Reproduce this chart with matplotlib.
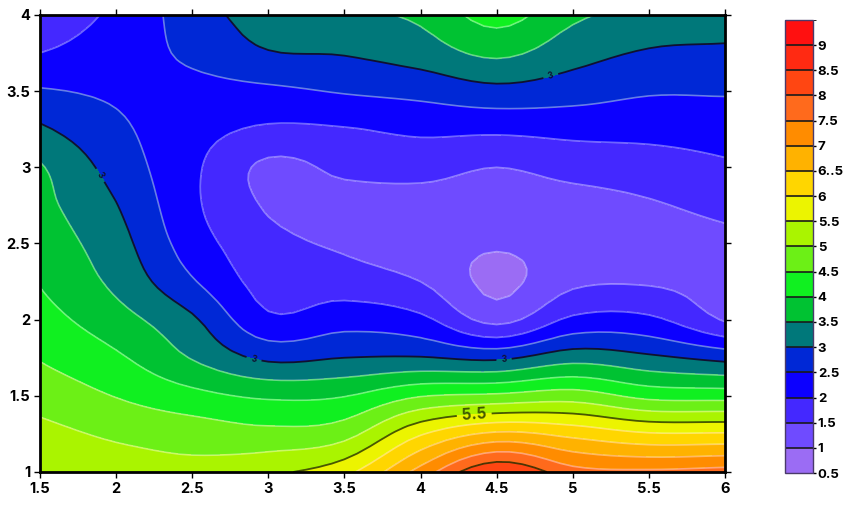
import numpy as np
import matplotlib.pyplot as plt
from matplotlib.colors import ListedColormap, BoundaryNorm

plt.rcParams['font.family'] = ['Inter', 'DejaVu Sans']
plt.rcParams['font.weight'] = 'bold'

# grid
x_vals = [1.5, 2.0, 2.5, 3.0, 3.5, 4.0, 4.5, 5.0, 5.5, 6.0]
y_vals = [1.0, 1.25, 1.5, 1.75, 2.0, 2.25, 2.5, 2.75, 3.0, 3.25, 3.5, 3.75, 4.0]

# one row per y value (bottom to top), one column per x value
z_vals = [
    [5.40, 5.25, 5.15, 5.40, 5.85, 7.20, 8.50, 7.70, 7.60, 7.70],
    [5.15, 4.92, 4.78, 4.65, 4.82, 5.95, 6.60, 6.35, 6.05, 6.05],
    [4.80, 4.48, 4.15, 3.92, 3.98, 4.47, 4.60, 4.75, 4.35, 4.30],
    [4.47, 4.08, 3.47, 2.90, 3.00, 3.03, 2.90, 3.30, 3.10, 2.85],
    [4.20, 3.70, 3.08, 2.10, 2.30, 2.12, 1.35, 2.10, 2.10, 1.45],
    [3.97, 3.38, 2.55, 1.80, 1.75, 1.50, 0.88, 1.40, 1.45, 1.30],
    [3.80, 3.20, 2.25, 1.65, 1.43, 1.20, 1.05, 1.20, 1.30, 1.38],
    [3.65, 3.02, 2.10, 1.45, 1.35, 1.30, 1.25, 1.30, 1.45, 1.63],
    [3.55, 2.80, 2.10, 1.40, 1.60, 1.67, 1.50, 1.68, 1.78, 1.93],
    [3.08, 2.60, 2.20, 1.93, 1.97, 2.10, 2.10, 2.15, 2.15, 2.20],
    [2.55, 2.42, 2.35, 2.40, 2.54, 2.65, 2.85, 2.72, 2.55, 2.55],
    [2.00, 2.25, 2.60, 2.97, 3.03, 3.24, 3.60, 3.20, 2.95, 2.90],
    [1.70, 2.10, 2.75, 3.25, 3.40, 3.60, 4.20, 3.60, 3.35, 3.30],
]

levels = [0.5, 1, 1.5, 2, 2.5, 3, 3.5, 4, 4.5, 5, 5.5, 6, 6.5, 7, 7.5, 8, 8.5, 9, 9.5]
band_colors = ['#9b6cf4', '#6f4bff', '#4428ff', '#0c00ff', '#0028d6', '#00787a',
               '#00c232', '#10f020', '#6cf016', '#aaf400', '#ecf400', '#ffd600',
               '#ffb200', '#ff8c00', '#ff6a1c', '#ff4612', '#ff2a12', '#ff1010']
cbar_labels = ['0.5', '1', '1.5', '2', '2.5', '3', '3.5', '4', '4.5', '5',
               '5.5', '6', '6..5', '7', '7.5', '8', '8.5', '9']


def smooth_rows(a, k):
    # catmull-rom resampling along the last axis
    n = a.shape[1]
    p = np.hstack([2 * a[:, :1] - a[:, 1:2], a, 2 * a[:, -1:] - a[:, -2:-1]])
    t = np.linspace(0, n - 1, (n - 1) * k + 1)
    i = np.minimum(np.floor(t).astype(int), n - 2)
    s = t - i
    p0, p1, p2, p3 = p[:, i], p[:, i + 1], p[:, i + 2], p[:, i + 3]
    return 0.5 * (2 * p1 + (p2 - p0) * s + (2 * p0 - 5 * p1 + 4 * p2 - p3) * s ** 2
                  + (3 * p1 - p0 - 3 * p2 + p3) * s ** 3)


k = 6
Z = np.array(z_vals)
Z = smooth_rows(Z, k)
Z = smooth_rows(Z.T, k).T
xs = np.linspace(x_vals[0], x_vals[-1], Z.shape[1])
ys = np.linspace(y_vals[0], y_vals[-1], Z.shape[0])
X, Y = np.meshgrid(xs, ys)

cmap = ListedColormap(band_colors)
norm = BoundaryNorm(levels, cmap.N)

fig = plt.figure(figsize=(8.45, 5.19), dpi=100)
ax = fig.add_axes([0.0473, 0.0906, 0.8107, 0.8805])
cax = fig.add_axes([0.929, 0.0886, 0.033, 0.873])

cf = ax.contourf(X, Y, Z, levels=levels, cmap=cmap, norm=norm)

light = [l for l in levels if l not in (3, 5.5, 8)]
ax.contour(X, Y, Z, levels=light, colors='white', alpha=0.4, linewidths=1.2)
dark3 = ax.contour(X, Y, Z, levels=[3], colors='#101030', linewidths=1.3)
dark55 = ax.contour(X, Y, Z, levels=[5.5, 8], colors='#203000', alpha=0.8, linewidths=1.3)

ax.clabel(dark3, fmt='%g', fontsize=6, inline=True,
          manual=[(1.9, 2.95), (2.9, 1.72), (4.55, 1.72), (4.85, 3.62)])
ax.clabel(dark55, levels=[5.5], fmt='%g', fontsize=11, inline=True,
          manual=[(4.35, 1.42)])

ax.set_xlim(1.5, 6)
ax.set_ylim(1, 4)
ax.set_xticks([1.5, 2, 2.5, 3, 3.5, 4, 4.5, 5, 5.5, 6])
ax.set_xticklabels(['1.5', '2', '2.5', '3', '3.5', '4', '4.5', '5', '5.5', '6'])
ax.set_yticks([1, 1.5, 2, 2.5, 3, 3.5, 4])
ax.set_yticklabels(['1', '1.5', '2', '2.5', '3', '3.5', '4'])
ax.tick_params(direction='out', length=4, width=1, labelsize=10.5,
               top=True, right=True, pad=3)
for s in ax.spines.values():
    s.set_linewidth(2)

cb = fig.colorbar(cf, cax=cax, ticks=levels[:-1], drawedges=True)
cb.ax.set_yticklabels(cbar_labels)
cb.ax.tick_params(length=2, width=1, labelsize=9.5, pad=1.5)
cb.outline.set_edgecolor('#4a3a6a')
cb.outline.set_linewidth(1)
cb.dividers.set_color('#1a1a1a')
cb.dividers.set_linewidth(1.2)

fig.savefig('out.png', dpi=100)
